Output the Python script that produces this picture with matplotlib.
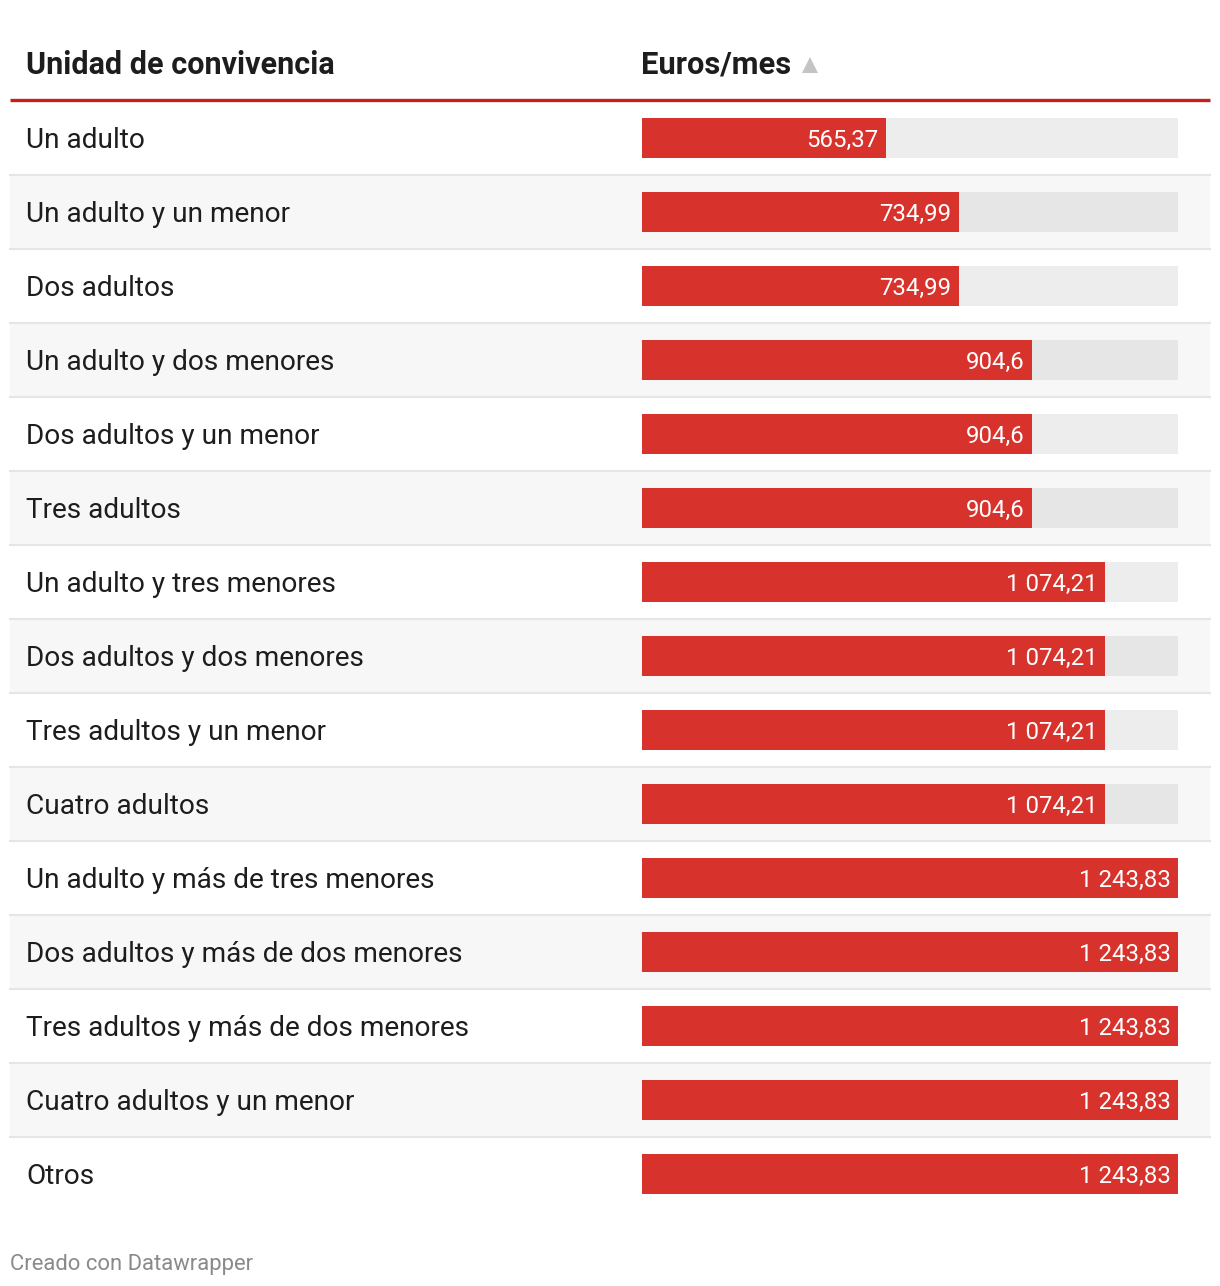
import matplotlib
matplotlib.use("Agg")
import matplotlib.pyplot as plt
from matplotlib.patches import Rectangle

plt.rcParams['font.family'] = ['Roboto', 'DejaVu Sans']

# data
categorias = [
    "Un adulto",
    "Un adulto y un menor",
    "Dos adultos",
    "Un adulto y dos menores",
    "Dos adultos y un menor",
    "Tres adultos",
    "Un adulto y tres menores",
    "Dos adultos y dos menores",
    "Tres adultos y un menor",
    "Cuatro adultos",
    "Un adulto y más de tres menores",
    "Dos adultos y más de dos menores",
    "Tres adultos y más de dos menores",
    "Cuatro adultos y un menor",
    "Otros",
]
euros_mes = [565.37, 734.99, 734.99, 904.6, 904.6, 904.6,
             1074.21, 1074.21, 1074.21, 1074.21,
             1243.83, 1243.83, 1243.83, 1243.83, 1243.83]
etiquetas = ["565,37", "734,99", "734,99", "904,6", "904,6", "904,6",
             "1 074,21", "1 074,21", "1 074,21", "1 074,21",
             "1 243,83", "1 243,83", "1 243,83", "1 243,83", "1 243,83"]

W, H = 1220, 1286
RED = "#d8322c"
fig = plt.figure(figsize=(W / 100, H / 100), dpi=100)

# whole-figure axes in pixel coords for the table layout
ax = fig.add_axes([0, 0, 1, 1])
ax.set_xlim(0, W)
ax.set_ylim(H, 0)
ax.axis("off")

top = 101
row_h = 74
n = len(categorias)

for i, cat in enumerate(categorias):
    y0 = top + i * row_h
    if i % 2 == 1:
        ax.add_patch(Rectangle((10, y0), 1200, row_h, color="#f7f7f7", lw=0, zorder=0))
    if i < n - 1:
        ax.plot([10, 1210], [y0 + row_h, y0 + row_h], color="#e6e6e6", lw=1.6, zorder=1)
    ax.text(26, y0 + row_h / 2 + 10.5, cat, fontsize=20.15, color="#1d1d1d", va="baseline", ha="left")

# header
ax.text(26, 74, "Unidad de convivencia", fontsize=22, fontweight="bold", color="#1d1d1d", va="baseline")
ax.text(641, 74, "Euros/mes", fontsize=22.2, fontweight="bold", color="#1d1d1d", va="baseline")
ax.plot([810], [65], marker="^", markersize=12, color="#c4c4c4", markeredgewidth=0)
ax.plot([10, 1210], [99.5, 99.5], color="#c71e1d", lw=2.4, solid_capstyle="butt")

# footer
ax.text(10, 1270, "Creado con Datawrapper", fontsize=15.8, color="#8a8a8a", va="baseline")

# bar column axes
bx = fig.add_axes([642 / W, (H - (top + n * row_h)) / H, 536 / W, n * row_h / H])
bx.set_xlim(0, max(euros_mes))
bx.set_ylim(n - 0.5, -0.5)
bx.axis("off")
bx.patch.set_alpha(0)

ys = list(range(n))
track_cols = ["#ededed" if i % 2 == 0 else "#e6e6e6" for i in ys]
bx.barh(ys, [max(euros_mes)] * n, height=40 / row_h, color=track_cols, lw=0)
bx.barh(ys, euros_mes, height=40 / row_h, color=RED, lw=0)
for i, (v, lab) in enumerate(zip(euros_mes, etiquetas)):
    bx.annotate(lab, (v, i), xytext=(-7, -8.5), textcoords="offset pixels",
                ha="right", va="baseline", color="white", fontsize=17.3)

fig.savefig("out.png", dpi=100)
